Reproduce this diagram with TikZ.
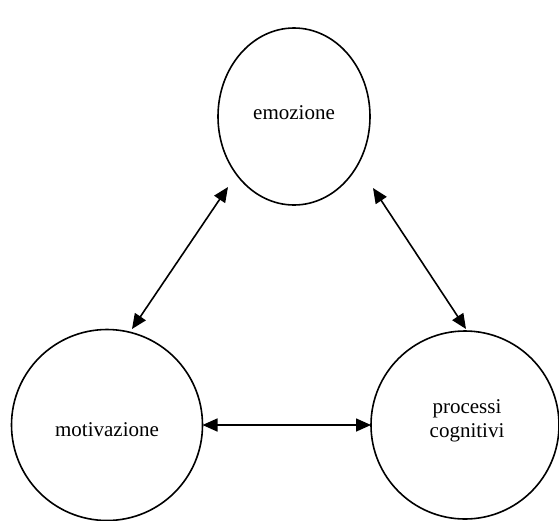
\documentclass[tikz,border=0pt]{standalone}
\usepackage{fontspec}
\setmainfont{Liberation Serif}
\usetikzlibrary{arrows.meta,shapes.geometric}
\begin{document}
\begin{tikzpicture}[x=1pt,y=-1pt,
  bubble/.style={draw,line width=1.6pt,ellipse,inner sep=0pt,outer sep=0pt},
  lbl/.style={font=\fontsize{21}{24}\selectfont,align=center,inner sep=0pt},
  link/.style={line width=1.6pt,{Triangle[length=15pt,width=13pt]}-{Triangle[length=15pt,width=13pt]}}]
\useasboundingbox (0,0) rectangle (559,520);
\node[bubble,minimum width=152pt,minimum height=177pt,label={[lbl,yshift=4pt]center:emozione}] (emo) at (294,116.5) {};
\node[bubble,minimum width=191pt,minimum height=191pt,label={[lbl,yshift=-5pt]center:motivazione}] (mot) at (107,425) {};
\node[bubble,minimum width=188pt,minimum height=188pt,label={[lbl,yshift=4pt,xshift=2pt]center:processi\\cognitivi}] (proc) at (465,425) {};
\coordinate (a1) at (228,187);
\coordinate (a2) at (132,329);
\coordinate (b1) at (373,188);
\coordinate (b2) at (466,329);
\draw[link] (a1) -- (a2);
\draw[link] (b1) -- (b2);
\draw[link] (mot.east) -- (proc.west);
\end{tikzpicture}
\end{document}
